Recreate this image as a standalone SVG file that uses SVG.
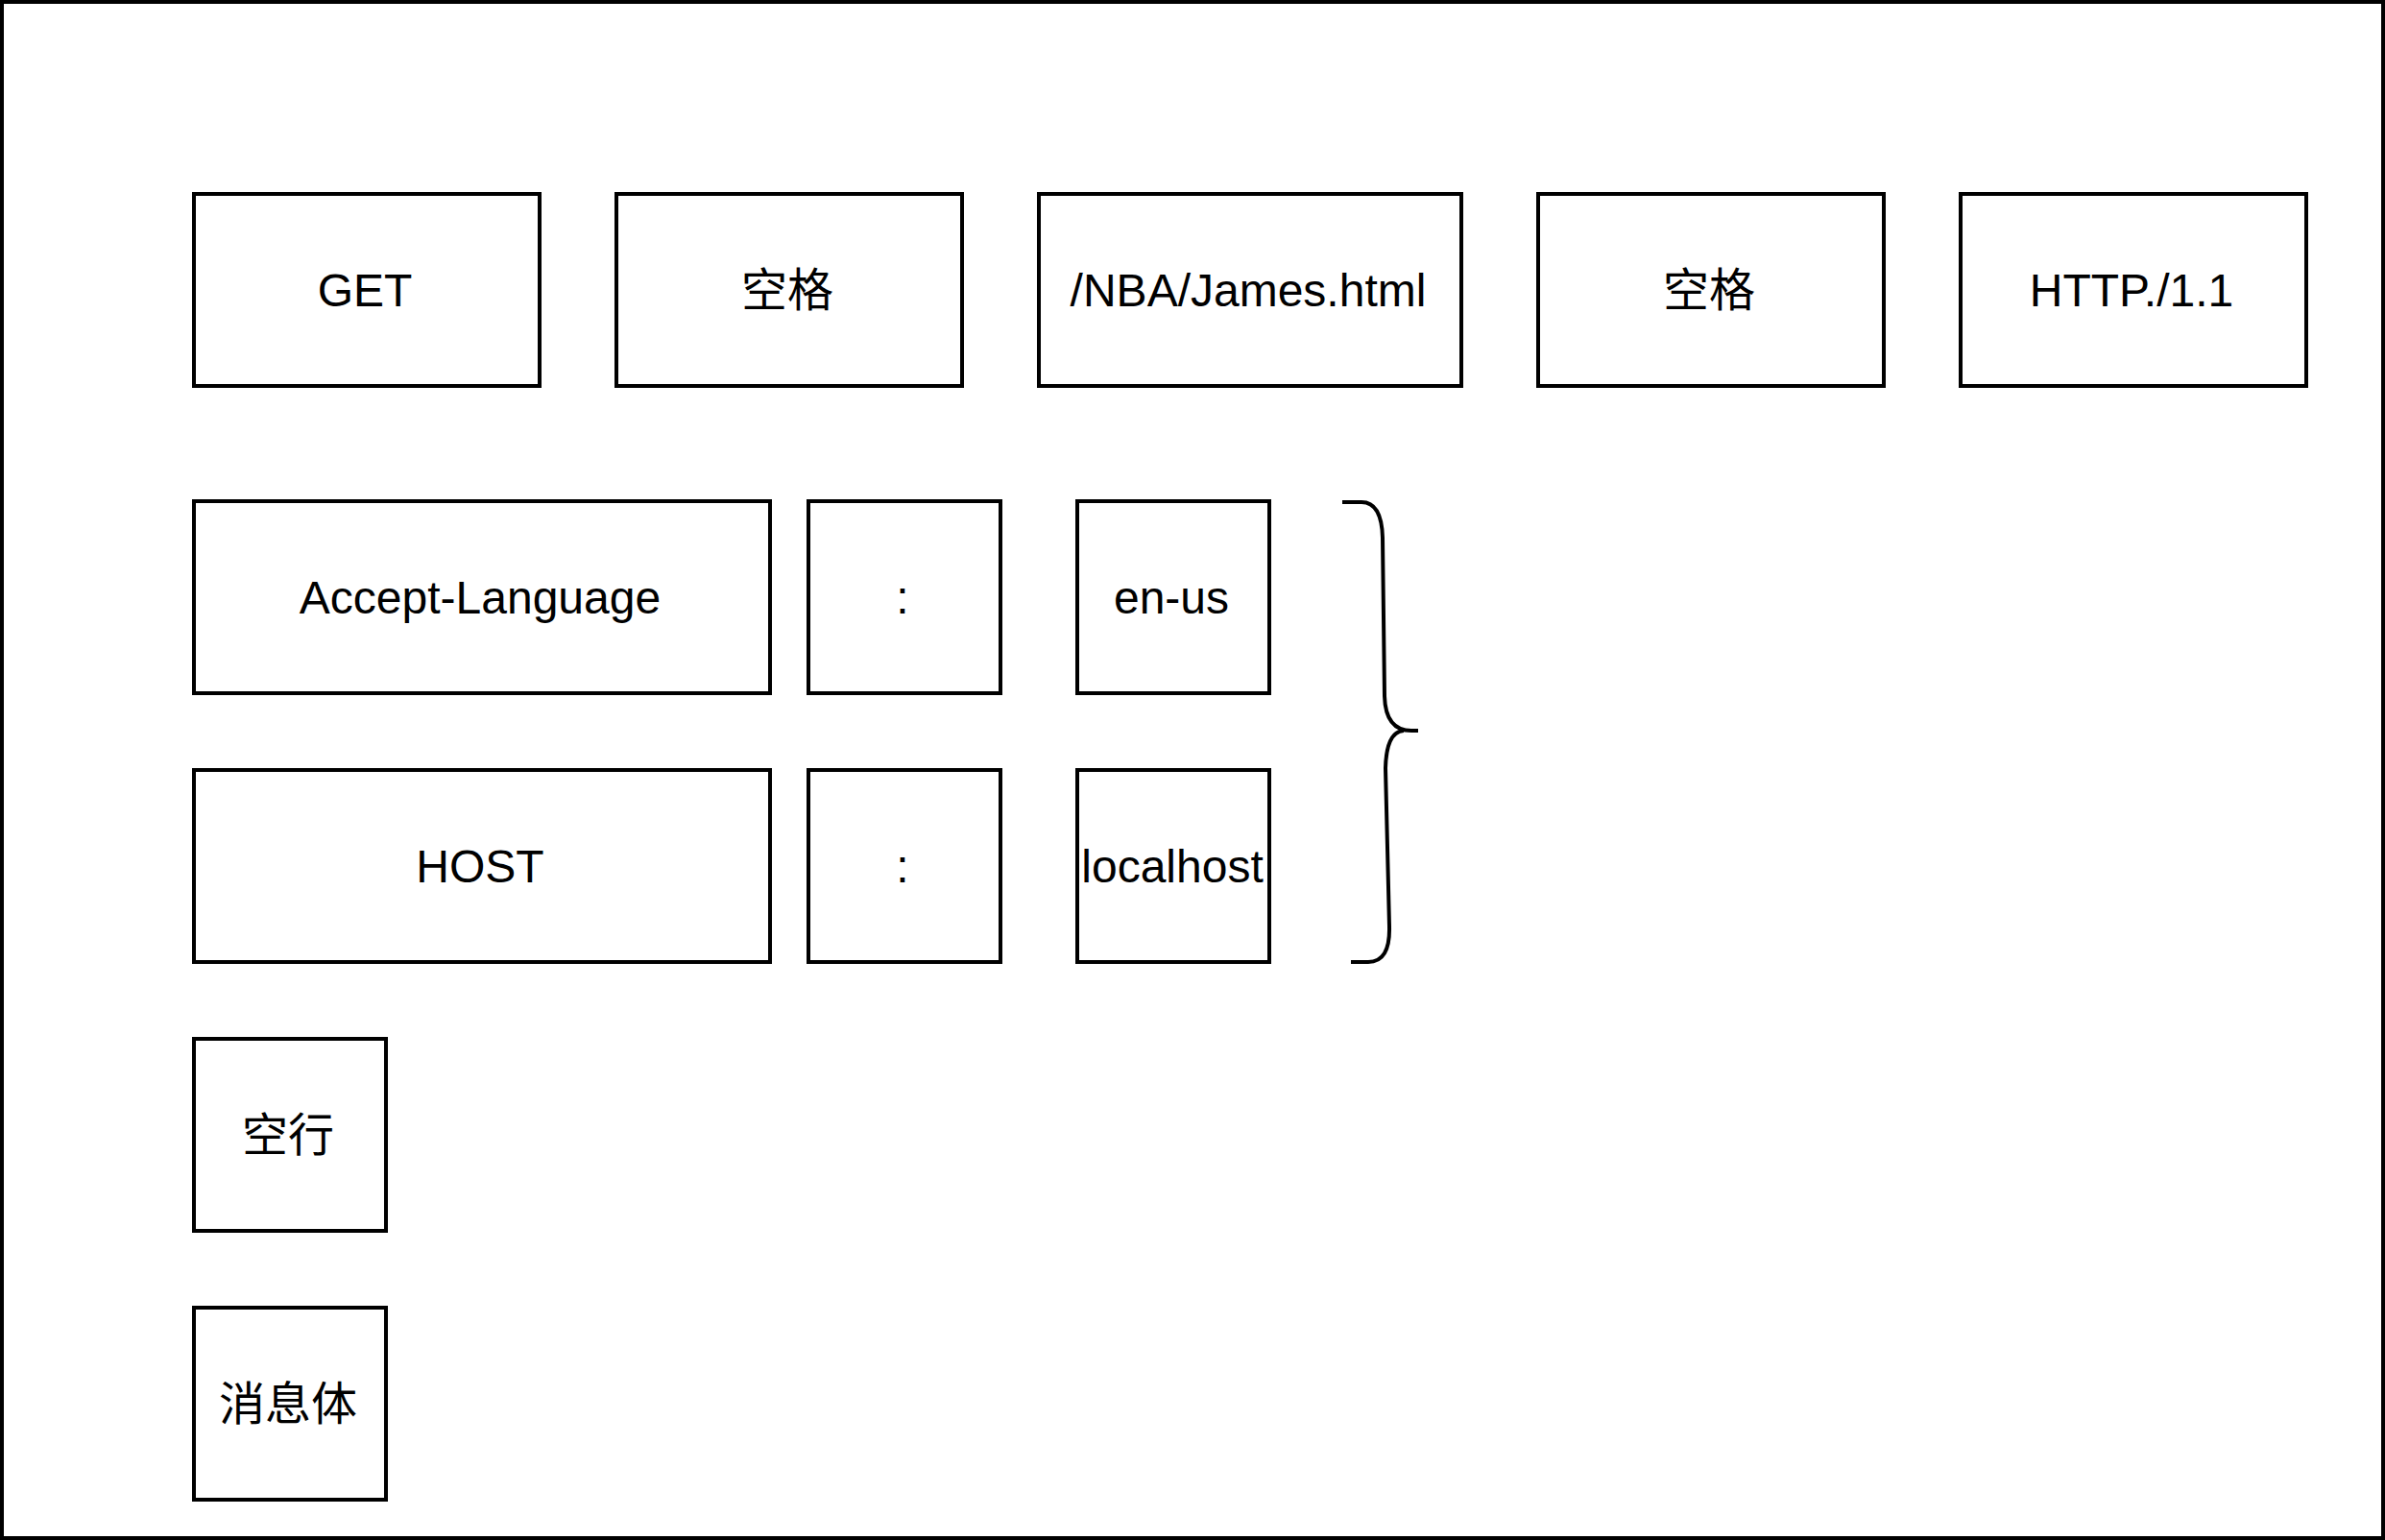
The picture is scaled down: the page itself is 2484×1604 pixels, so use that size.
<svg xmlns="http://www.w3.org/2000/svg" width="2484" height="1604" viewBox="0 0 2484 1604">
<style>
.box{fill:#ffffff;stroke:#000000;stroke-width:4}
.t{font-family:"Liberation Sans","Noto Sans CJK SC",Arial,sans-serif;font-size:48px;fill:#000000;text-anchor:middle}
.brace{fill:none;stroke:#000000;stroke-width:4;stroke-linecap:butt}
</style>
<rect x="2" y="2" width="2480" height="1600" fill="#ffffff" stroke="#000000" stroke-width="4"/>
<g id="node-get"><rect class="box" x="202" y="202" width="360" height="200"/><text class="t" x="380" y="319">GET</text></g>
<g id="node-space1"><rect class="box" x="642" y="202" width="360" height="200"/><text class="t" x="820" y="319">空格</text></g>
<g id="node-url"><rect class="box" x="1082" y="202" width="440" height="200"/><text class="t" x="1300" y="319">/NBA/James.html</text></g>
<g id="node-space2"><rect class="box" x="1602" y="202" width="360" height="200"/><text class="t" x="1780" y="319">空格</text></g>
<g id="node-http"><rect class="box" x="2042" y="202" width="360" height="200"/><text class="t" x="2220" y="319">HTTP./1.1</text></g>
<g id="node-accept"><rect class="box" x="202" y="522" width="600" height="200"/><text class="t" x="500" y="639">Accept-Language</text></g>
<g id="node-colon1"><rect class="box" x="842" y="522" width="200" height="200"/><text class="t" x="940" y="639">:</text></g>
<g id="node-enus"><rect class="box" x="1122" y="522" width="200" height="200"/><text class="t" x="1220" y="639">en-us</text></g>
<g id="node-host"><rect class="box" x="202" y="802" width="600" height="200"/><text class="t" x="500" y="919">HOST</text></g>
<g id="node-colon2"><rect class="box" x="842" y="802" width="200" height="200"/><text class="t" x="940" y="919">:</text></g>
<g id="node-localhost"><rect class="box" x="1122" y="802" width="200" height="200"/><text class="t" x="1221" y="919">localhost</text></g>
<g id="node-emptyline"><rect class="box" x="202" y="1082" width="200" height="200"/><text class="t" x="300" y="1199">空行</text></g>
<g id="node-body"><rect class="box" x="202" y="1362" width="200" height="200"/><text class="t" x="300" y="1479">消息体</text></g>
<g id="node-brace">
<path class="brace" d="M1398,523 L1418,523 Q1439,523 1440,560 L1442,725 Q1443,761 1470,761 L1477,761"/>
<path class="brace" d="M1462,761 Q1444,762 1443,800 L1447,965 Q1448,1002 1425,1002 L1407,1002"/>
</g>
</svg>
